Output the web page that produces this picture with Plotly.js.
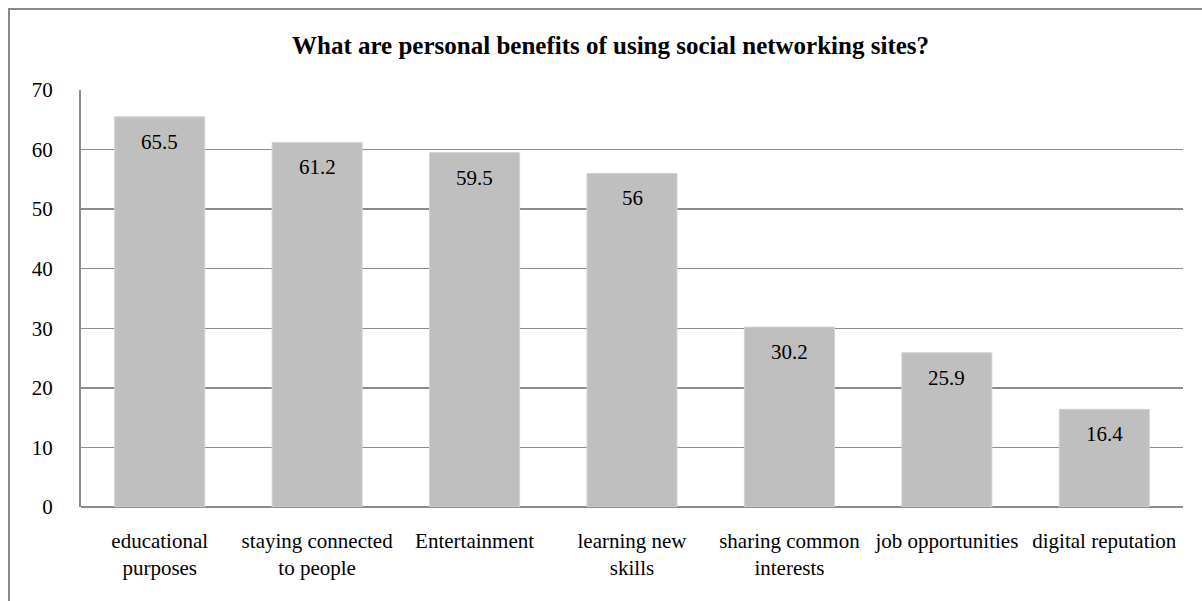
<!DOCTYPE html>
<html>
<head>
<meta charset="utf-8">
<script src="https://cdn.plot.ly/plotly-3.0.1.min.js"></script>
<style>
  html, body { margin: 0; padding: 0; background: #fff; }
  #wrap { position: relative; width: 1202px; height: 601px; overflow: hidden; }
  #chart { position: absolute; left: 0; top: 0; width: 1202px; height: 601px; }
  #frame { position: absolute; left: 8px; top: 8px; width: 1300px; height: 700px;
           border-left: 2px solid #8a8a8a; border-top: 2px solid #8a8a8a; pointer-events: none; }
</style>
</head>
<body>
<div id="wrap">
  <div id="chart"></div>
  <div id="frame"></div>
</div>
<script>
const categories = [
  "educational<br>purposes",
  "staying connected<br>to people",
  "Entertainment",
  "learning new<br>skills",
  "sharing common<br>interests",
  "job opportunities",
  "digital reputation"
];
const values = [65.5, 61.2, 59.5, 56, 30.2, 25.9, 16.4];
const valueLabels = ["65.5", "61.2", "59.5", "56", "30.2", "25.9", "16.4"];
const yTicks = [0, 10, 20, 30, 40, 50, 60, 70];

const serif = "'Liberation Serif', 'Times New Roman', serif";

const trace = {
  type: 'bar',
  x: categories,
  y: values,
  marker: { color: '#bfbfbf', line: { color: '#d2d2d2', width: 1 } },
  hoverinfo: 'skip'
};

const annotations = categories.map((c, i) => ({
  x: c, y: values[i], xref: 'x', yref: 'y',
  text: valueLabels[i], showarrow: false,
  yanchor: 'middle', yshift: -25,
  font: { family: serif, size: 21, color: '#000' }
}));

annotations.push({
  xref: 'paper', yref: 'paper', x: (610 - 81) / 1102, y: 1 + (90 - 45) / 417,
  xanchor: 'center', yanchor: 'middle', showarrow: false,
  text: '<b>What are personal benefits of using social networking sites?</b>',
  font: { family: serif, size: 25, color: '#000' }
});

const layout = {
  width: 1202, height: 601,
  margin: { l: 81, r: 19, t: 90, b: 94 },
  paper_bgcolor: '#fff', plot_bgcolor: '#fff',
  showlegend: false,
  bargap: 0.428,
  font: { family: serif, size: 21, color: '#000' },
  xaxis: {
    type: 'category',
    showgrid: false,
    showline: false,
    zeroline: false,
    ticks: '',
    ticklabelstandoff: 19,
    tickfont: { family: serif, size: 21, color: '#000' }
  },
  yaxis: {
    range: [0, 70],
    tickvals: yTicks,
    ticktext: yTicks.map(String),
    showgrid: true,
    gridcolor: '#8c8c8c',
    gridwidth: 1.5,
    zeroline: true,
    zerolinecolor: '#8c8c8c',
    zerolinewidth: 2,
    showline: true,
    linecolor: '#8c8c8c',
    linewidth: 2,
    ticks: '',
    ticklabelstandoff: 22,
    tickfont: { family: serif, size: 21, color: '#000' }
  },
  annotations: annotations
};

Plotly.newPlot('chart', [trace], layout, { displayModeBar: false, staticPlot: true });
</script>
</body>
</html>
